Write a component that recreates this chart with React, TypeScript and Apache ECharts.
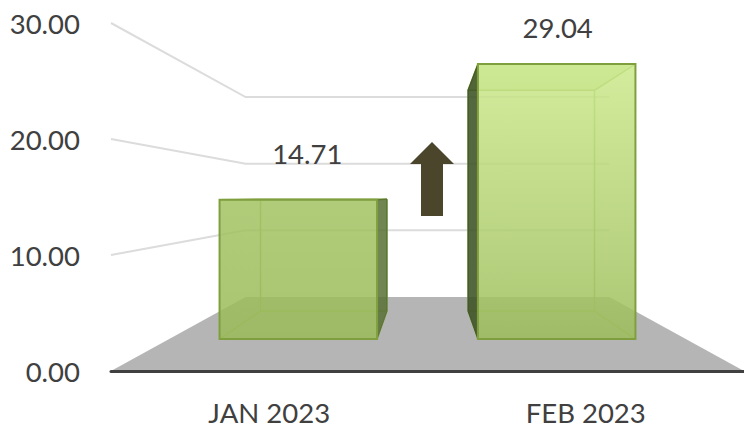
import React, { useEffect, useRef } from "react";
import * as echarts from "echarts";

const categories = ["JAN 2023", "FEB 2023"];
const values = [14.71, 29.04];
const gridTicks = [0, 10, 20, 30];

const FONT = "Lato";
const TEXT = "#404040";
// perspective of the 3D box
const depthShrink = 0.4253;
const depthRise = 74;
const frontDepth = 0.432;
const backDepth = 0.81;
const barPixelWidth = 193;
// style per bar
const gradients = [["#a3c362", "#9bbb59"], ["#cbe98c", "#9dbd5b"]];
const sideColors = ["rgba(88,112,52,0.85)", "rgba(62,82,36,0.88)"];
const labelOffsets = [[9, -46], [1, -37]];

function projector(cs: any) {
  const baseY = cs.y + cs.height;
  const midX = cs.x + cs.width / 2;
  return (x: number, y: number, t: number) => {
    const k = 1 - depthShrink * t;
    return [midX + (x - midX) * k, baseY - depthRise * t - (baseY - y) * k];
  };
}

function renderWall(params: any, api: any) {
  const cs = params.coordSys;
  const p = projector(cs);
  const v = api.value(1);
  const y = api.coord([0, v])[1];
  const left = cs.x;
  const right = cs.x + cs.width;
  if (v === 0) {
    return {
      type: "polygon",
      silent: true,
      shape: { points: [p(left, y, 0), p(left, y, 1), p(right, y, 1), p(right, y, 0)] },
      style: { fill: "#b5b5b5" },
    };
  }
  return {
    type: "polyline",
    silent: true,
    shape: { points: [p(left, y, 0), p(left, y, 1), p(right, y, 1)] },
    style: { fill: "none", stroke: "#dcdcdc", lineWidth: 2 },
  };
}

function renderBar(params: any, api: any) {
  const cs = params.coordSys;
  const p = projector(cs);
  const i = api.value(0);
  const v = api.value(1);
  const cx = api.coord([i, 0])[0];
  const y0 = api.coord([i, 0])[1];
  const y1 = api.coord([i, v])[1];
  const l = cx - barPixelWidth / 2;
  const r = cx + barPixelWidth / 2;
  const f = frontDepth;
  const b = backDepth;
  const fbl = p(l, y0, f), fbr = p(r, y0, f), ftl = p(l, y1, f), ftr = p(r, y1, f);
  const bbl = p(l, y0, b), bbr = p(r, y0, b), btl = p(l, y1, b), btr = p(r, y1, b);
  const inner = { stroke: "rgba(140,172,76,0.85)", lineWidth: 1.5, fill: "none" };
  const outer = "#7f9f3f";
  const g = gradients[i];
  const seg = (a: number[], c: number[]) => ({
    type: "line",
    silent: true,
    shape: { x1: a[0], y1: a[1], x2: c[0], y2: c[1] },
    style: inner,
  });
  const side = i === 0 ? [ftr, btr, bbr, fbr] : [ftl, btl, bbl, fbl];
  const off = labelOffsets[i];
  return {
    type: "group",
    children: [
      seg(btl, btr), seg(btr, bbr), seg(bbr, bbl), seg(bbl, btl),
      seg(ftl, btl), seg(ftr, btr), seg(fbl, bbl), seg(fbr, bbr),
      {
        type: "polygon",
        silent: true,
        shape: { points: [ftl, btl, btr, ftr] },
        style: { fill: "rgba(190,215,130,0.55)", stroke: "rgba(127,159,63,0.8)", lineWidth: 1 },
      },
      {
        type: "polygon",
        silent: true,
        shape: { points: side },
        style: { fill: sideColors[i], stroke: sideColors[i], lineWidth: 1 },
      },
      {
        type: "polygon",
        silent: true,
        shape: { points: [ftl, ftr, fbr, fbl] },
        style: {
          opacity: 0.85,
          fill: new echarts.graphic.LinearGradient(0, 0, 0, 1, [
            { offset: 0, color: g[0] },
            { offset: 1, color: g[1] },
          ]),
        },
      },
      {
        type: "polygon",
        silent: true,
        shape: { points: [ftl, ftr, fbr, fbl] },
        style: { fill: "none", stroke: outer, lineWidth: 2 },
      },
      {
        type: "text",
        silent: true,
        style: {
          x: (ftl[0] + ftr[0]) / 2 + off[0],
          y: ftl[1] + off[1],
          text: v.toFixed(2),
          textAlign: "center",
          textVerticalAlign: "middle",
          fontFamily: FONT,
          fontSize: 27.5,
          fill: TEXT,
        },
      },
    ],
  };
}

export default function App() {
  const ref = useRef<HTMLDivElement>(null);
  useEffect(() => {
    const chart = echarts.init(ref.current!, undefined, { renderer: "svg" });
    chart.setOption({
      animation: false,
      backgroundColor: "#ffffff",
      grid: { left: 111, right: 0, top: 23, bottom: 53, containLabel: false, outerBoundsMode: "none" },
      xAxis: {
        type: "category",
        data: categories,
        axisTick: { show: false },
        axisLine: { show: true, lineStyle: { color: "#404040", width: 3 } },
        axisLabel: { color: TEXT, fontFamily: FONT, fontSize: 27.5, margin: 27 },
        z: 5,
      },
      yAxis: {
        type: "value",
        min: 0,
        max: 30,
        interval: 10,
        axisLine: { show: false },
        axisTick: { show: false },
        splitLine: { show: false },
        axisLabel: {
          color: TEXT,
          fontFamily: FONT,
          fontSize: 27.5,
          margin: 31,
          padding: [2, 0, 0, 0],
          formatter: (v: number) => v.toFixed(2),
        },
      },
      series: [
        {
          type: "custom",
          renderItem: renderWall,
          clip: false,
          silent: true,
          encode: { x: 0, y: 1 },
          data: gridTicks.map((t) => [0, t]),
          z: 1,
        },
        {
          type: "custom",
          renderItem: renderBar,
          clip: false,
          silent: true,
          encode: { x: 0, y: 1 },
          data: values.map((v, i) => [i, v]),
          z: 2,
        },
      ],
      graphic: [
        {
          type: "polygon",
          silent: true,
          z: 10,
          shape: {
            points: [[432, 142], [454, 164], [443, 164], [443, 216], [421, 216], [421, 164], [410, 164]],
          },
          style: { fill: "#4b462b" },
        },
      ],
    });
    return () => chart.dispose();
  }, []);
  return (
    <div
      ref={ref}
      style={{ position: "fixed", left: 0, top: 0, width: 744, height: 424, background: "#fff" }}
    />
  );
}
